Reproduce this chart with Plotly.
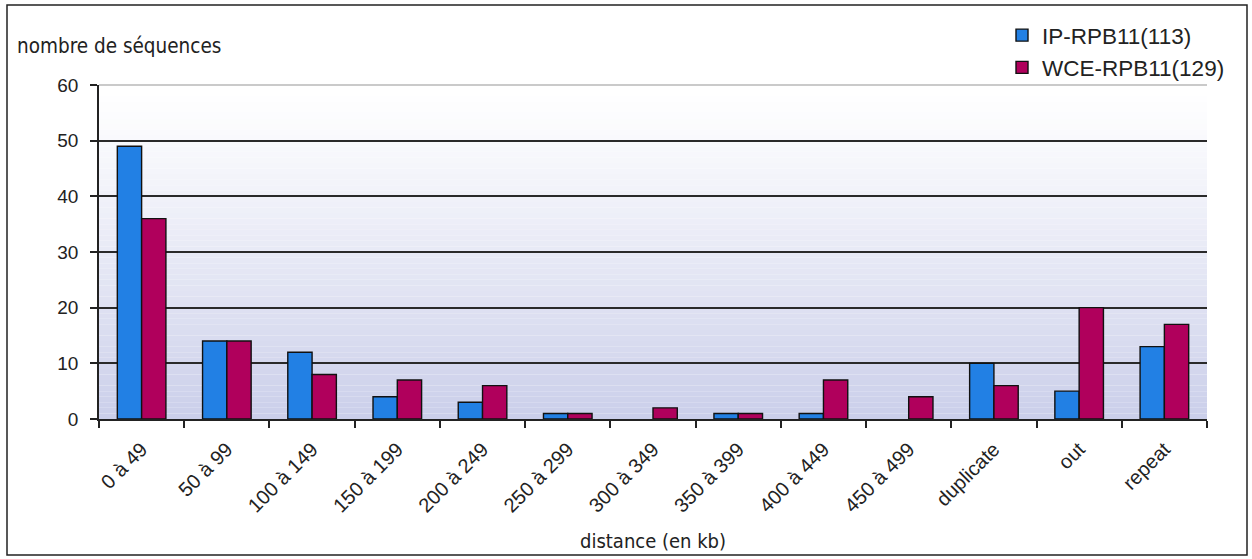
import plotly.graph_objects as go

categories = ["0 à 49", "50 à 99", "100 à 149", "150 à 199", "200 à 249", "250 à 299",
              "300 à 349", "350 à 399", "400 à 449", "450 à 499", "duplicate", "out", "repeat"]
ip_values = [49, 14, 12, 4, 3, 1, 0, 1, 1, 0, 10, 5, 13]
wce_values = [36, 14, 8, 7, 6, 1, 2, 1, 7, 4, 6, 20, 17]
series_names = ["IP-RPB11(113)", "WCE-RPB11(129)"]
y_ticks = [0, 10, 20, 30, 40, 50, 60]

W, H = 1252, 559
L, R, T, B = 99, 45, 85, 140
pw, ph = W - L - R, H - T - B

def px_x(px):
    return (px - L) / pw

def px_y(py):
    return (H - B - py) / ph

def hide_zero(vals):
    # empty categories are drawn without any bar, as in the original
    return [v if v != 0 else None for v in vals]

fig = go.Figure()
fig.add_trace(go.Bar(x=categories, y=hide_zero(ip_values), name=series_names[0],
                     marker=dict(color="#2280e4", line=dict(color="#111111", width=1.4))))
fig.add_trace(go.Bar(x=categories, y=hide_zero(wce_values), name=series_names[1],
                     marker=dict(color="#b0005c", line=dict(color="#111111", width=1.4))))

shapes = []
n = 60
top_c = (255, 255, 255)
bot_c = (203, 207, 234)
for i in range(n):
    f = (i / (n - 1)) ** 1.15
    c = tuple(round(top_c[k] + (bot_c[k] - top_c[k]) * f) for k in range(3))
    shapes.append(dict(type="rect", xref="x domain", yref="y domain",
                       x0=0, x1=1, y0=1 - (i + 1) / n, y1=1 - i / n,
                       fillcolor="rgb(%d,%d,%d)" % c, line=dict(width=0), layer="below"))
# light top gridline (60)
shapes.append(dict(type="line", xref="x domain", yref="y domain", x0=0, x1=1, y0=1, y1=1,
                   line=dict(color="#b8b8b8", width=1.5), layer="above"))
# outer frame
shapes.append(dict(type="rect", xref="paper", yref="paper",
                   x0=px_x(7), x1=px_x(1247), y0=px_y(555), y1=px_y(5),
                   line=dict(color="#222222", width=1.5), fillcolor="rgba(0,0,0,0)"))

label_font = "Liberation Sans, Arial, sans-serif"
title_font = "DejaVu Sans Condensed, Liberation Sans Narrow, Arial Narrow, sans-serif"

fig.update_layout(
    width=W, height=H,
    margin=dict(l=L, r=R, t=T, b=B),
    paper_bgcolor="white", plot_bgcolor="rgba(0,0,0,0)",
    barmode="group", bargap=0.43, bargroupgap=0,
    font=dict(family=label_font, color="#222222"),
    shapes=shapes,
    showlegend=True,
    legend=dict(x=px_x(1002), y=px_y(14), xanchor="left", yanchor="top",
                font=dict(size=22.5, color="#222222", family=label_font),
                bgcolor="rgba(0,0,0,0)", itemwidth=30, tracegroupgap=0),
    xaxis=dict(type="category", tickangle=-45, tickfont=dict(size=20),
               showline=True, linecolor="#222222", linewidth=1.5,
               ticks="outside", ticklen=7, tickcolor="#222222", tickwidth=1.5,
               tickson="boundaries", ticklabelstandoff=9,
               showgrid=False),
    yaxis=dict(range=[0, 60], tickvals=y_ticks,
               tickfont=dict(size=19),
               showline=True, linecolor="#222222", linewidth=1.5,
               ticks="outside", ticklen=7, tickcolor="#222222", tickwidth=1.5,
               ticklabelstandoff=8,
               showgrid=True, gridcolor="#2a2a2a", gridwidth=1.6, zeroline=False),
    annotations=[
        dict(text="nombre de séquences", xref="paper", yref="paper",
             x=px_x(15), y=px_y(46), xanchor="left", yanchor="middle",
             showarrow=False, font=dict(size=20.5, color="#222222", family=title_font)),
        dict(text="distance (en kb)", xref="paper", yref="paper",
             x=px_x(653), y=px_y(541), xanchor="center", yanchor="middle",
             showarrow=False, font=dict(size=20, color="#222222", family=title_font)),
    ],
)

fig.write_html("out.html")
